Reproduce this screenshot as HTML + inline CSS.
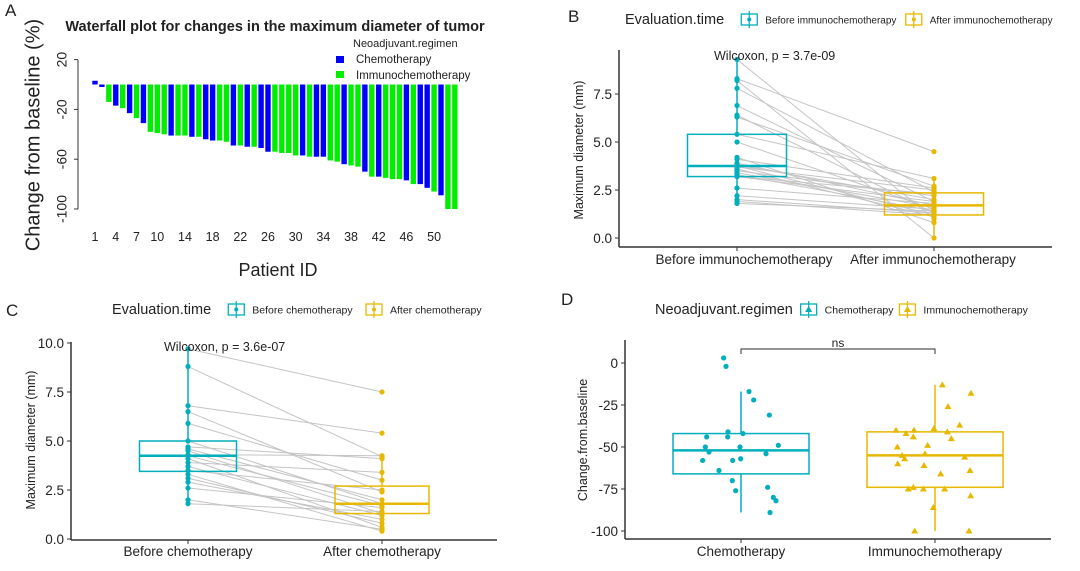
<!DOCTYPE html>
<html><head><meta charset="utf-8"><style>
html,body{margin:0;padding:0;background:#fff;width:1080px;height:571px;overflow:hidden}
svg text{font-family:"Liberation Sans",sans-serif;fill:#222}
</style></head><body>
<svg id="s" width="1080" height="571" xmlns="http://www.w3.org/2000/svg"></svg>
<script>
const T="#00AFBB",Y="#E7B800";
let h='';
function t(x,y,s,fs,a,ex){h+=`<text x="${x}" y="${y}" font-size="${fs}" text-anchor="${a||'start'}" ${ex||''}>${s}</text>`;}
function l(x1,y1,x2,y2,c,w){h+=`<line x1="${x1}" y1="${y1}" x2="${x2}" y2="${y2}" stroke="${c}" stroke-width="${w||1}"/>`;}
function r(x,y,w,hh,f,st,sw){h+=`<rect x="${x}" y="${y}" width="${w}" height="${hh}" fill="${f}" ${st?`stroke="${st}" stroke-width="${sw||1.5}"`:''}/>`;}
function c(x,y,col,rr){h+=`<circle cx="${x}" cy="${y}" r="${rr||2.6}" fill="${col}"/>`;}
function tri(x,y,col){h+=`<polygon points="${x},${y-3.5} ${x-3.5},${y+2.5} ${x+3.5},${y+2.5}" fill="${col}"/>`;}
// ---- Panel A
t(5,16,"A",17);
t(275,31,"Waterfall plot for changes in the maximum diameter of tumor",14.5,"middle",'font-weight="bold"');
const vals=[3,-2,-14,-17,-19,-23,-27,-31,-38,-39,-40,-41,-41,-41,-42,-42,-44,-45,-45,-46,-49,-49,-50,-50,-51,-54,-54,-55,-55,-57,-57,-58,-58,-58,-61,-62,-64,-65,-66,-70,-74,-74,-75,-76,-76,-77,-80,-80,-83,-86,-89,-100,-100];
const col="BBGBGBGBGGGBGGBGBBGGBGBGBBGGGGBGBBGGBGGBGBGGGBGBBGBGG";
const ay=v=>84.5-v*1.245;
vals.forEach((v,i)=>{const x=95+i*6.92-2.7;const y1=ay(Math.max(v,0)),y2=ay(Math.min(v,0));r(x,y1,5.4,y2-y1,col[i]=='B'?'#0000FF':'#00EE00');});
l(78,60,78,209,"#333");
[[20,"20"],[-20,"-20"],[-60,"-60"],[-100,"-100"]].forEach(([v,s])=>{const y=ay(v);l(74,y,78,y,"#333");t(63,y,s,14,"middle",`transform="rotate(-90 63 ${y})" dominant-baseline="middle"`);});
[1,4,7,10,14,18,22,26,30,34,38,42,46,50].forEach(n=>t(95+(n-1)*6.92,241,n,12.5,"middle"));
t(34,135,"Change from baseline (%)",20,"middle",'transform="rotate(-90 34 135)" dominant-baseline="middle"');
t(278,276,"Patient ID",18,"middle");
t(353,47,"Neoadjuvant.regimen",11,"start");
r(336,56,8,7,"#0000FF");t(356,63,"Chemotherapy",11.5);
r(336,71,8,7,"#00EE00");t(356,79,"Immunochemotherapy",11.5);
// ---- generic box panel
function box(cx,hw,q1,q3,med,lo,hi,yf,colr){l(cx,yf(hi),cx,yf(q3),colr,1.5);l(cx,yf(q1),cx,yf(lo),colr,1.5);r(cx-hw,yf(q3),2*hw,yf(q1)-yf(q3),"none",colr,1.5);l(cx-hw,yf(med),cx+hw,yf(med),colr,2.5);}
function legend(x,y,title,a,b,tsz,shape){t(x,y+5,title,14.5);let xx=x+title.length*7.35+6;
 [[a,T],[b,Y]].forEach(([s,cc])=>{r(xx,y-5,16,11,"none",cc,1.3);l(xx+8,y-8,xx+8,y+9,cc,1.2);if(shape=='tri')tri(xx+8,y+0.5,cc);else c(xx+8,y+0.5,cc,2);t(xx+24,y+4.5,s,tsz);xx+=24+s.length*tsz*0.53+8;});}
// ---- Panel B
t(568,22,"B",17);
legend(625,19,"Evaluation.time","Before immunochemotherapy","After immunochemotherapy",10);
const by=v=>238-v*19.2;
l(619,50,619,247,"#333",1.5);l(619,247,1052,247,"#333",1.5);
[0,2.5,5,7.5].forEach(v=>{l(615,by(v),619,by(v),"#333");t(612,by(v)+5,v.toFixed(1),13.5,"end");});
l(737,247,737,251,"#333");l(934,247,934,251,"#333");
t(744,264,"Before immunochemotherapy",13.5,"middle");t(933,264,"After immunochemotherapy",13.5,"middle");
t(583,150,"Maximum diameter (mm)",12.5,"middle",'transform="rotate(-90 583 150)"');
const bB=[9.3,8.3,8.2,7.8,6.9,6.4,6.3,5.4,5.0,4.2,4.1,3.9,3.8,3.75,3.7,3.6,3.5,3.4,3.3,3.2,3.2,2.6,2.2,2.0,1.9,1.8];
const bA=[1.0,4.5,0.0,2.4,1.9,1.3,2.7,3.1,1.5,0.8,2.6,1.7,2.0,1.2,2.5,1.1,2.2,1.6,1.4,2.3,1.9,1.8,1.5,1.3,1.2,1.4];
bB.forEach((v,i)=>l(737,by(v),934,by(bA[i]),"#c4c4c4",1));
box(737,49.5,3.2,5.4,3.75,1.8,9.3,by,T);box(934,49.5,1.2,2.35,1.7,0,3.1,by,Y);
bB.forEach(v=>c(737,by(v),T));bA.forEach(v=>c(934,by(v),Y));
t(714,60,"Wilcoxon, p = 3.7e-09",12.5,"start");
// ---- Panel C
t(6,316,"C",17);
legend(112,309,"Evaluation.time","Before chemotherapy","After chemotherapy",10.5);
const cy=v=>539-v*19.6;
l(71,342,71,540,"#333",1.5);l(71,540,497,540,"#333",1.5);
[0,2.5,5,7.5,10].forEach(v=>{l(67,cy(v),71,cy(v),"#333");t(64,cy(v)+5,v.toFixed(1),13.5,"end");});
l(188,540,188,544,"#333");l(382,540,382,544,"#333");
t(188,556,"Before chemotherapy",13.5,"middle");t(382,556,"After chemotherapy",13.5,"middle");
t(35,440,"Maximum diameter (mm)",12.5,"middle",'transform="rotate(-90 35 440)"');
const cB=[9.7,8.8,6.8,6.5,5.9,5.0,4.7,4.6,4.5,4.3,4.25,4.1,3.9,3.7,3.5,3.3,3.1,2.9,2.6,2.0,1.8];
const cA=[7.5,4.2,5.4,2.4,3.0,1.8,4.1,2.0,1.3,4.25,1.7,0.6,3.4,1.2,2.5,0.4,0.8,1.0,1.6,0.5,1.4];
cB.forEach((v,i)=>l(188,cy(v),382,cy(cA[i]),"#c4c4c4",1));
box(188,48.5,3.45,5.0,4.25,1.8,9.7,cy,T);box(382,47,1.3,2.7,1.8,0.4,4.2,cy,Y);
cB.forEach(v=>c(188,cy(v),T));cA.forEach(v=>c(382,cy(v),Y));
t(164,351,"Wilcoxon, p = 3.6e-07",12.5,"start");
// ---- Panel D
t(561,305,"D",17);
legend(655,309,"Neoadjuvant.regimen","Chemotherapy","Immunochemotherapy",10.5,"tri");
const dy=v=>363-v*1.68;
l(625,340,625,539,"#333",1.5);l(625,539,1051,539,"#333",1.5);
[0,-25,-50,-75,-100].forEach(v=>{l(621,dy(v),625,dy(v),"#333");t(618,dy(v)+5,v,13.5,"end");});
l(741,539,741,543,"#333");l(935,539,935,543,"#333");
t(741,556,"Chemotherapy",13.5,"middle");t(935,556,"Immunochemotherapy",13.5,"middle");
t(587,440,"Change.from.baseline",12.5,"middle",'transform="rotate(-90 587 440)"');
box(741,68,-66,-42,-52,-89,-17,dy,T);box(935,68,-74,-41,-55,-100,-13,dy,Y);
h+=`<polyline points="741,354 741,349 935,349 935,354" fill="none" stroke="#555" stroke-width="1.2"/>`;
t(838,347,"ns",12,"middle");
[[551,3],[558,-2],[627,-17],[641,-22],[688,-31],[564,-41],[500,-44],[563,-44],[609,-42],[496,-50],[507,-53],[600,-50],[715,-49],[678,-54],[488,-58],[578,-58],[602,-57],[537,-64],[577,-70],[587,-76],[683,-74],[700,-80],[708,-82],[690,-89]].forEach(([x,v])=>c(540+x/3,dy(v),T));
[[1207,-13],[1293,-18],[1224,-26],[1259,-37],[1068,-40],[1098,-42],[1122,-40],[1182,-39],[1222,-41],[1120,-44],[1234,-45],[1163,-49],[1072,-50],[1086,-55],[1094,-57],[1155,-54],[1274,-56],[1073,-60],[1152,-61],[1202,-66],[1290,-64],[1105,-75],[1120,-74],[1150,-75],[1214,-75],[1292,-79],[1180,-86],[1124,-100],[1287,-100]].forEach(([x,v])=>tri(540+x/3,dy(v),Y));
document.getElementById('s').innerHTML=h;
</script>
</body></html>
